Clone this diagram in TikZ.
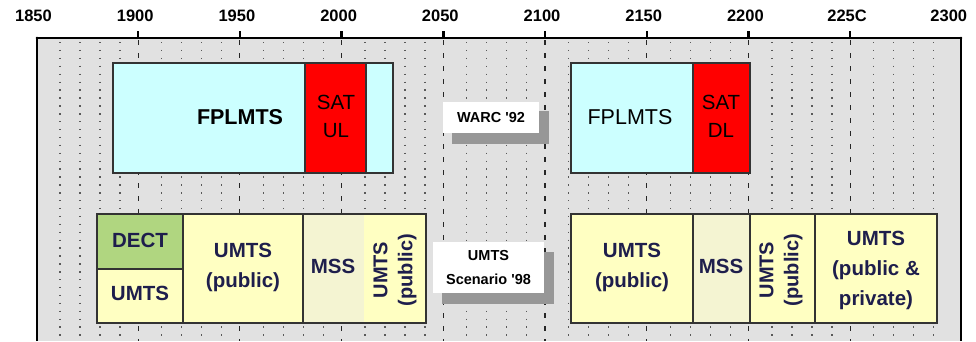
\documentclass[tikz,border=0pt]{standalone}
\usepackage{fontspec}
\setmainfont{Liberation Sans}
\usepackage{xcolor}
\usetikzlibrary{positioning}
\definecolor{panelgray}{HTML}{E1E1E1}
\definecolor{fplcyan}{HTML}{CCFFFF}
\definecolor{satred}{HTML}{FF0000}
\definecolor{umtsyellow}{HTML}{FFFFC2}
\definecolor{msscream}{HTML}{F4F4D2}
\definecolor{dectgreen}{HTML}{B0D680}
\definecolor{navytext}{HTML}{1E1E4C}
\definecolor{shadowgray}{HTML}{979797}

\tikzset{
  yearlabel/.style={font=\fontsize{16.5}{16}\selectfont\bfseries},
  fpltext/.style={font=\fontsize{21.5}{22}\selectfont\bfseries},
  sattext/.style={font=\fontsize{20.5}{28}\selectfont, align=center},
  bandtext/.style={font=\fontsize{20.5}{30}\selectfont\bfseries, text=navytext, align=center},
  turntext/.style={font=\fontsize{20}{25}\selectfont\bfseries, text=navytext, align=center, rotate=90},
  tagtext/.style={font=\fontsize{14.5}{24}\selectfont\bfseries, fill=white, align=center, inner sep=0pt},
  bandline/.style={draw=black!80, line width=1.1pt},
  gridmajor/.style={black!85, line width=1.1pt, dash pattern=on 5pt off 8pt},
  gridminor/.style={black!65, line width=1.3pt, dash pattern=on 1.4pt off 6.5pt},
}

\begin{document}
\begin{tikzpicture}[x=1pt,y=-1pt]
  \useasboundingbox (0,0) rectangle (976,341);

  % panel and time grid
  \fill[panelgray] (37,38) rectangle (961,341);
  \foreach \k in {0,...,8}
    \foreach \j in {0,...,3}
      \draw[gridminor] ({36.5+\k*101.7+23.5+20*\j},42) -- ++(0,299);
  \foreach \yr [evaluate=\yr as \xx using 36.5+(\yr-1850)*2.034] in {1900,1950,...,2250} {
    \draw[gridmajor] (\xx,40) -- (\xx,341);
    \draw[line width=2.4pt] (\xx,31) -- (\xx,38);
  }
  \draw[line width=1.3pt] (37,341) -- (37,38) -- (961,38) -- (961,341);
  \fill (37,38) circle (1.4pt);
  \fill (961,38) circle (1.4pt);

  % year labels
  \foreach \yr/\lab [evaluate=\yr as \xx using 33.5+(\yr-1850)*2.034] in
      {1850/1850,1900/1900,1950/1950,2000/2000,2050/2050,2100/2100,2150/2150,2200/2200,2250/225C,2300/2300}
    \node[yearlabel] (y\yr) at (\xx,16) {\lab};

  % WARC '92 allocation
  \fill[fplcyan] (113,63) rectangle (393,173);
  \fill[satred] (305,63) rectangle (366,173);
  \draw[bandline] (113,63) rectangle (393,173);
  \draw[bandline] (305,63) -- (305,173) (366,63) -- (366,173);
  \node[fpltext] (fplA) at (240,117) {FPLMTS};
  \node[sattext] (satUL) at (336,116) {SAT\\UL};

  \fill[fplcyan] (571,63) rectangle (750,173);
  \fill[satred] (693,63) rectangle (750,173);
  \draw[bandline] (571,63) rectangle (750,173);
  \draw[bandline] (693,63) -- (693,173);
  \node[fpltext, font=\fontsize{21.5}{22}\selectfont] (fplB) at (630,117) {FPLMTS};
  \node[sattext] (satDL) at (721,116) {SAT\\DL};

  % UMTS scenario '98
  \fill[umtsyellow] (97,214) rectangle (426,323);
  \fill[dectgreen] (97,214) rectangle (183,269);
  \fill[msscream] (303,214) rectangle (364,323);
  \draw[bandline] (97,214) rectangle (426,323);
  \draw[bandline] (97,269) -- (183,269) (183,214) -- (183,323) (303,214) -- (303,323);
  \node[bandtext] (dect) at (140,240) {DECT};
  \node[bandtext] (umtsA) at (140,293) {UMTS};
  \node[bandtext] (pubA) at (243,267) {UMTS\\(public)};
  \node[bandtext] (mssA) at (333,266) {MSS};
  \node[turntext] (turnA) at (395,270) {UMTS\\(public)};

  \fill[umtsyellow] (571,214) rectangle (937,323);
  \fill[msscream] (693,214) rectangle (750,323);
  \draw[bandline] (571,214) rectangle (937,323);
  \draw[bandline] (693,214) -- (693,323) (750,214) -- (750,323) (815,214) -- (815,323);
  \node[bandtext] (pubB) at (632,267) {UMTS\\(public)};
  \node[bandtext] (mssB) at (721,266) {MSS};
  \node[turntext] (turnB) at (781,270) {UMTS\\(public)};
  \node[bandtext] (privB) at (876,270) {UMTS\\(public \&\\private)};

  % tags with shadow
  \fill[shadowgray] (452,111) rectangle (549,144);
  \node[tagtext, minimum width=96, minimum height=31] (warc) at (491,117.5) {WARC \textquotesingle 92};
  \fill[shadowgray] (442,252) rectangle (554,304);
  \node[tagtext, minimum width=111, minimum height=51] (scen) at (488.5,267.5) {UMTS\\Scenario \textquotesingle 98};
\end{tikzpicture}
\end{document}
